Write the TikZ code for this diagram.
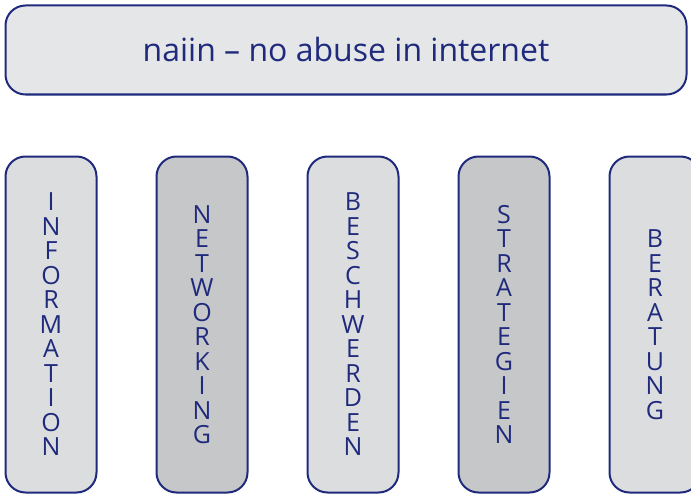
\documentclass[tikz,border=0pt]{standalone}
\usepackage{fontspec}
\setmainfont{Open Sans}
\usetikzlibrary{positioning}

\definecolor{naviblue}{HTML}{1F2A7C}
\definecolor{titlegrey}{HTML}{E5E6E8}
\definecolor{lightgrey}{HTML}{DCDDDF}
\definecolor{darkgrey}{HTML}{C6C7C9}

\begin{document}
\begin{tikzpicture}[x=1pt,y=-1pt,
    every node/.style={draw=naviblue,line width=2pt,rounded corners=20pt,text=naviblue,inner sep=0pt},
    pillar/.style={minimum width=91pt,minimum height=336pt,align=center,font=\fontsize{25}{24.5}\selectfont},
    node distance=58pt]
  \useasboundingbox (0,0) rectangle (691,495);

  \node[fill=titlegrey,minimum width=681pt,minimum height=89pt,font=\fontsize{32}{34}\selectfont] (title) at (346,50) {naiin – no abuse in internet};

  % the five pillars
  \node[pillar,fill=lightgrey] (info) at (51,324.5) {I\\N\\F\\O\\R\\M\\A\\T\\I\\O\\N};
  \node[pillar,fill=darkgrey,right=of info] (netw) {N\\E\\T\\W\\O\\R\\K\\I\\N\\G};
  \node[pillar,fill=lightgrey,right=of netw] (besch) {B\\E\\S\\C\\H\\W\\E\\R\\D\\E\\N};
  \node[pillar,fill=darkgrey,right=of besch] (strat) {S\\T\\R\\A\\T\\E\\G\\I\\E\\N};
  \node[pillar,fill=lightgrey,right=of strat] (berat) {B\\E\\R\\A\\T\\U\\N\\G};
\end{tikzpicture}
\end{document}
